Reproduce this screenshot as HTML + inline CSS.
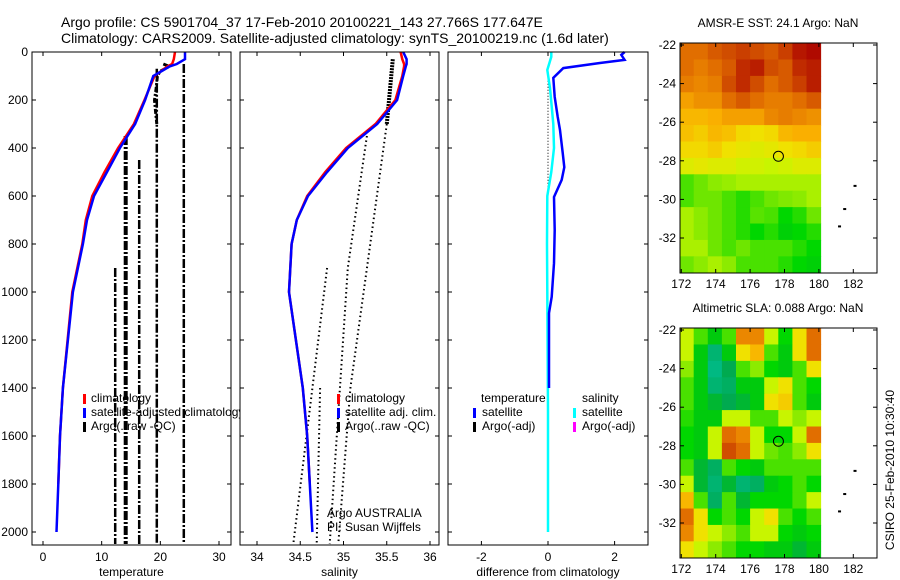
<!DOCTYPE html>
<html><head><meta charset="utf-8"><style>
html,body{margin:0;padding:0;background:#fff;}
svg{display:block;font-family:"Liberation Sans",sans-serif;}
</style></head><body>
<svg id="chart" width="900" height="580" viewBox="0 0 900 580" xmlns="http://www.w3.org/2000/svg">
<text x="61" y="27" font-size="14">Argo profile: CS 5901704_37 17-Feb-2010 20100221_143 27.766S 177.647E</text>
<text x="61" y="43" font-size="14">Climatology: CARS2009. Satellite-adjusted climatology: synTS_20100219.nc (1.6d later)</text>
<g id="g"></g>
</svg>
<script>
// ---- data ----
const depthTicks=[0,200,400,600,800,1000,1200,1400,1600,1800,2000];
const tempTicks=[0,10,20,30];
const salTicks=[34,34.5,35,35.5,36];
const saltTickLabels=["34","34.5","35","35.5","36"];
const diffTicks=[-2,0,2];
const lonTicks=[172,174,176,178,180,182];
const latTicks=[-22,-24,-26,-28,-30,-32];

const climDepth=[0,30,50,60,100,200,300,400,500,600,700,800,1000,1400,1600,1800];
const climTemp=[22.5,22.3,22.0,21.2,19.0,17.3,15.5,12.8,10.5,8.4,7.3,6.7,5.0,3.4,2.9,2.6];
const satDepth=[0,30,50,60,100,200,300,400,500,600,700,800,1000,1400,1600,1800,2000];
const satTemp=[24.2,24.2,22.8,21.6,18.8,17.4,15.7,13.1,10.9,8.7,7.5,6.8,5.1,3.4,2.9,2.6,2.3];
const climSal=[35.66,35.68,35.70,35.70,35.68,35.60,35.37,35.03,34.79,34.58,34.46,34.40,34.37,34.53,34.58,34.61];
const satSal=[35.69,35.73,35.73,35.72,35.69,35.62,35.39,35.05,34.81,34.59,34.46,34.40,34.37,34.53,34.58,34.61,34.64];

// Argo raw temperature traces (bad QC) : [temp, topDepth, bottomDepth]
const argoTemp=[24.0,19.4,16.4,14.1,12.3];
const argoTempTop=[50,70,450,350,900];
const argoTempBot=[2050,2050,2050,2050,2050];
const argoNearDepth=[50,60,80,100,150,200,250,300];
const argoNearTemp=[20.5,21.5,20.0,19.5,19.3,19.0,19.2,19.4];

// Argo salinity traces
const argoSalTrace1=[[35.57,30],[35.50,300]];
const argoSalTrace2=[[35.27,350],[35.05,900],[34.84,2050]];
const argoSalTrace3=[[35.50,300],[35.08,1400],[34.94,2050]];
const argoSalTrace4=[[34.81,900],[34.42,2050]];
const argoSalTrace5=[[34.73,1400],[34.69,2050]];

const diffDepth=[0,12,33,46,67,108,187,270,325,420,480,533,604,742,880,1020,1088,1400];
const diffTempSat=[2.3,2.2,2.3,1.56,0.46,0.16,0.2,0.29,0.36,0.44,0.49,0.41,0.18,0.2,0.18,0.11,0.03,0.03];
const diffSalDepth=[0,20,75,150,300,400,500,600,800,1000,1500,2000];
const diffSalSat=[0.1,0.1,-0.02,0.06,0.16,0.18,0.1,-0.02,-0.03,-0.02,0.0,0.0];

// SST map grid (normalized colour index), 10 cols x 14 rows
const sstGrid=[
[0.85,0.85,0.88,0.9,0.92,0.9,0.88,0.92,0.98,1],
[0.85,0.82,0.85,0.88,0.95,0.97,0.9,0.88,0.95,0.97],
[0.82,0.8,0.82,0.9,0.95,0.9,0.85,0.88,0.92,0.97],
[0.75,0.78,0.78,0.85,0.88,0.85,0.82,0.82,0.85,0.88],
[0.7,0.7,0.72,0.75,0.75,0.75,0.8,0.82,0.8,0.78],
[0.68,0.65,0.7,0.68,0.62,0.6,0.62,0.7,0.72,0.72],
[0.62,0.62,0.65,0.6,0.58,0.55,0.57,0.6,0.62,0.65],
[0.55,0.57,0.55,0.55,0.52,0.52,0.5,0.52,0.55,0.55],
[0.3,0.35,0.4,0.42,0.45,0.45,0.45,0.45,0.45,0.45],
[0.3,0.35,0.35,0.3,0.25,0.3,0.35,0.38,0.4,0.45],
[0.45,0.4,0.35,0.3,0.25,0.32,0.3,0.2,0.25,0.35],
[0.45,0.4,0.35,0.3,0.25,0.2,0.25,0.15,0.2,0.25],
[0.45,0.45,0.35,0.3,0.35,0.3,0.3,0.3,0.25,0.2],
[0.35,0.4,0.45,0.4,0.3,0.3,0.3,0.25,0.2,0.15]];
const slaGrid=[
[0.5,0.3,0.1,0.3,0.8,0.8,0.5,0.2,0.6,0.85],
[0.5,0.1,-0.15,0.1,0.6,0.7,0.3,0.1,0.6,0.85],
[0.4,0.1,-0.2,-0.05,0.3,0.4,0.2,0.1,0.3,0.6],
[0.3,0.1,-0.15,-0.1,0.1,0.1,0.5,0.6,0.3,0.2],
[0.3,0.1,0.0,-0.05,0.0,0.1,0.6,0.65,0.3,0.1],
[0.25,0.1,0.1,0.5,0.5,0.3,0.3,0.5,0.4,0.5],
[0.2,0.1,0.5,0.85,0.8,0.5,0.2,0.2,0.5,0.85],
[0.2,0.1,0.5,0.9,0.85,0.5,0.35,0.3,0.4,0.6],
[0.3,0.0,-0.1,0.3,0.2,0.1,0.3,0.3,0.3,0.3],
[0.5,0.0,-0.15,0.0,-0.15,-0.1,0.1,0.2,0.3,0.2],
[0.7,0.3,-0.1,0.3,0.0,0.2,0.2,0.2,0.3,0.5],
[0.85,0.6,0.2,0.3,0.2,0.5,0.6,0.3,0.2,0.3],
[0.8,0.6,0.5,0.4,0.3,0.5,0.5,0.2,0.1,0.2],
[0.6,0.5,0.4,0.3,0.2,0.2,0.1,0.1,0.0,0.1]];
const argoLon=177.647, argoLat=-27.766;

// ---- helpers ----
const NS="http://www.w3.org/2000/svg";
const G=document.getElementById('g');
function el(tag,attrs,parent){const e=document.createElementNS(NS,tag);for(const k in attrs)e.setAttribute(k,attrs[k]);(parent||G).appendChild(e);return e;}
const yD=d=>52+d*0.24;
const P1={x0:32,x1:231}, P2={x0:240,x1:439}, P3={x0:448,x1:648};
const xT=t=>43+t*5.867;
const xS=s=>257+(s-34)*86.5;
const xDf=v=>548+v*33.3;
const TOP=52,BOT=545;

function panel(P,name,xTicks,xf,labels,xlabel){
  const g=el('g',{});
  
  
  el('rect',{x:P.x0,y:TOP,width:P.x1-P.x0,height:BOT-TOP,fill:'#fff',stroke:'none'},g);
  return g;
}
function frame(P,g,xTicks,xf,labels,xlabel,lname,showY){
  el('rect',{x:P.x0,y:TOP,width:P.x1-P.x0,height:BOT-TOP,fill:'none',stroke:'#000','stroke-width':1},g);
  xTicks.forEach((t,i)=>{const x=xf(t);
    el('line',{x1:x,y1:TOP,x2:x,y2:TOP+4,stroke:'#000'},g);
    el('line',{x1:x,y1:BOT,x2:x,y2:BOT-4,stroke:'#000'},g);
    const tx=el('text',{x:x,y:561,'font-size':12,'text-anchor':'middle'},g);tx.textContent=labels[i];
    
    
  });
  depthTicks.forEach(d=>{const y=yD(d);
    el('line',{x1:P.x0,y1:y,x2:P.x0+4,y2:y,stroke:'#000'},g);
    el('line',{x1:P.x1,y1:y,x2:P.x1-4,y2:y,stroke:'#000'},g);
    if(showY){const tx=el('text',{x:28,y:y+4,'font-size':12,'text-anchor':'end'},g);tx.textContent=d;
      
      }
  });
  const xl=el('text',{x:(P.x0+P.x1)/2,y:576,'font-size':12,'text-anchor':'middle'},g);xl.textContent=xlabel;
  
  
}
function poly(pts,attrs,g,name){const p=el('polyline',Object.assign({points:pts.map(p=>p[0].toFixed(1)+','+p[1].toFixed(1)).join(' '),fill:'none'},attrs),g);
  
  return p;}
function txt(x,y,s,g,name,extra){const t=el('text',Object.assign({x:x,y:y,'font-size':12},extra||{}),g);t.textContent=s;
  
  return t;}
function mark(x,y,c,g){const r=el('rect',{x:x-1,y:y-9,width:3,height:10,fill:c},g);
  
  }

// ---- Panel 1: temperature ----
const g1=panel(P1,'temperature-panel');
const clip1=el('clipPath',{id:'c1'});el('rect',{x:P1.x0,y:TOP,width:P1.x1-P1.x0,height:BOT-TOP},clip1);
const g1c=el('g',{'clip-path':'url(#c1)'},g1);
argoTemp.forEach((t,i)=>{
  poly([[xT(t),yD(argoTempTop[i])],[xT(t),yD(argoTempBot[i])]],{stroke:'#000','stroke-width':i==3?4:2.5,'stroke-dasharray':'9,2,2,2'},g1c,'argo-temp-trace');
});
poly(argoNearDepth.map((d,i)=>[xT(argoNearTemp[i]),yD(d)]),{stroke:'#000','stroke-width':3,'stroke-dasharray':'5,2,2,2'},g1c,'argo-temp-near-surface');
poly(climDepth.map((d,i)=>[xT(climTemp[i]),yD(d)]),{stroke:'#f00','stroke-width':2.5},g1c,'climatology-temp-line');
poly(satDepth.map((d,i)=>[xT(satTemp[i]),yD(d)]),{stroke:'#00f','stroke-width':2.5},g1c,'satellite-temp-line');
mark(84,403,'#f00',g1);mark(84,417,'#00f',g1);mark(84,431,'#000',g1);
txt(91,402,'climatology',g1,'legend-climatology');
txt(91,416,'satellite-adjusted climatology',g1,'legend-satellite-adjusted');
txt(91,430,'Argo(..raw -QC)',g1,'legend-argo');
frame(P1,g1,tempTicks,xT,tempTicks.map(String),'temperature','x-axis-title-temperature',true);

// ---- Panel 2: salinity ----
const g2=panel(P2,'salinity-panel');
const clip2=el('clipPath',{id:'c2'});el('rect',{x:P2.x0,y:TOP,width:P2.x1-P2.x0,height:BOT-TOP},clip2);
const g2c=el('g',{'clip-path':'url(#c2)'},g2);
poly(argoSalTrace1.map(p=>[xS(p[0]),yD(p[1])]),{stroke:'#000','stroke-width':4,'stroke-dasharray':'2,1'},g2c,'argo-sal-trace');
[argoSalTrace2,argoSalTrace3,argoSalTrace4,argoSalTrace5].forEach(tr=>{
  poly(tr.map(p=>[xS(p[0]),yD(p[1])]),{stroke:'#000','stroke-width':2,'stroke-dasharray':'1.5,3'},g2c,'argo-sal-trace');
});
poly(climDepth.map((d,i)=>[xS(climSal[i]),yD(d)]),{stroke:'#f00','stroke-width':2.5},g2c,'climatology-sal-line');
poly(satDepth.map((d,i)=>[xS(satSal[i]),yD(d)]),{stroke:'#00f','stroke-width':2.5},g2c,'satellite-sal-line');
mark(338,403,'#f00',g2);mark(338,417,'#00f',g2);mark(338,431,'#000',g2);
txt(345,402,'climatology',g2,'legend-climatology');
txt(345,416,'satellite adj. clim.',g2,'legend-satellite-adj');
txt(345,430,'Argo(..raw -QC)',g2,'legend-argo');
txt(327,517,'Argo AUSTRALIA',g2,'credit-argo-australia');
txt(327,531,'PI: Susan Wijffels',g2,'credit-pi');
frame(P2,g2,salTicks,xS,saltTickLabels,'salinity','x-axis-title-salinity',false);

// ---- Panel 3: difference ----
const g3=panel(P3,'difference-panel');
poly([[xDf(0),yD(70)],[xDf(0),yD(600)]],{stroke:'#000','stroke-width':1,'stroke-dasharray':'1,2'},g3,'argo-diff-dotted');
poly(diffSalDepth.map((d,i)=>[xDf(diffSalSat[i]),yD(d)]),{stroke:'#0ff','stroke-width':2.5},g3,'salinity-satellite-diff-line');
poly(diffDepth.map((d,i)=>[xDf(diffTempSat[i]),yD(d)]),{stroke:'#00f','stroke-width':2.5},g3,'temperature-satellite-diff-line');
txt(481,402,'temperature',g3,'legend-temperature-heading');
mark(474,417,'#00f',g3);mark(474,431,'#000',g3);
txt(482,416,'satellite',g3,'legend-temp-satellite');
txt(482,430,'Argo(-adj)',g3,'legend-temp-argo');
txt(582,402,'salinity',g3,'legend-salinity-heading');
mark(574,417,'#0ff',g3);mark(574,431,'#f0f',g3);
txt(582,416,'satellite',g3,'legend-sal-satellite');
txt(582,430,'Argo(-adj)',g3,'legend-sal-argo');
frame(P3,g3,diffTicks,xDf,diffTicks.map(String),'difference from climatology','x-axis-title-difference',false);

// ---- maps ----
function cmap(v){
  const stops=[[-0.2,[0,185,130]],[-0.05,[0,170,80]],[0.05,[0,195,20]],[0.2,[0,215,0]],[0.35,[110,230,0]],[0.5,[200,245,0]],[0.6,[240,225,0]],[0.72,[250,175,0]],[0.85,[225,110,0]],[1,[175,10,0]]];
  if(v<=stops[0][0])return 'rgb('+stops[0][1]+')';
  for(let i=1;i<stops.length;i++){if(v<=stops[i][0]){const a=stops[i-1],b=stops[i],f=(v-a[0])/(b[0]-a[0]);
    return 'rgb('+a[1].map((c,j)=>Math.round(c+(b[1][j]-c)*f)).join(',')+')';}}
  return 'rgb('+stops[stops.length-1][1]+')';
}
function map(oy,title,grid,name){
  const g=el('g',{});
  
  
  const bx0=680,bx1=877,by0=43+oy,by1=273+oy;
  const xL=lon=>681.3+(lon-172)*17.2;
  const yL=lat=>45+oy+(-22-lat)*19.3;
  const lonMin=171.9,lonMax=180.1,latMax=-21.9,latMin=-33.8;
  const nr=grid.length,nc=grid[0].length;
  const dlon=(lonMax-lonMin)/nc,dlat=(latMax-latMin)/nr;
  grid.forEach((row,r)=>row.forEach((v,c)=>{
    const x0=Math.max(bx0,xL(lonMin+c*dlon)),x1=xL(lonMin+(c+1)*dlon);
    const y0=Math.max(by0,yL(latMax-r*dlat)),y1=Math.min(by1,yL(latMax-(r+1)*dlat));
    const rc=el('rect',{x:x0,y:y0,width:x1-x0+0.5,height:y1-y0+0.5,fill:cmap(v)},g);
    
    
  }));
  const ci=el('circle',{cx:xL(argoLon),cy:yL(argoLat),r:5,fill:'none',stroke:'#000','stroke-width':1},g);
  
  
  [[182.1,-29.3],[181.5,-30.5],[181.2,-31.4]].forEach(p=>{el('rect',{x:xL(p[0])-1.5,y:yL(p[1])-1,width:3,height:2,fill:'#000'},g);});
  el('rect',{x:bx0,y:by0,width:bx1-bx0,height:by1-by0,fill:'none',stroke:'#000'},g);
  lonTicks.forEach(l=>{const x=xL(l);
    el('line',{x1:x,y1:by0,x2:x,y2:by0+4,stroke:'#000'},g);el('line',{x1:x,y1:by1,x2:x,y2:by1-4,stroke:'#000'},g);
    txt(x,by1+15,String(l),g,'map-lon-tick-label',{'text-anchor':'middle'});});
  latTicks.forEach(l=>{const y=yL(l);
    el('line',{x1:bx0,y1:y,x2:bx0+4,y2:y,stroke:'#000'},g);el('line',{x1:bx1,y1:y,x2:bx1-4,y2:y,stroke:'#000'},g);
    txt(bx0-4,y+4,String(l),g,'map-lat-tick-label',{'text-anchor':'end'});});
  txt(778,by0-16,title,g,'map-title',{'text-anchor':'middle'});
}
map(0,'AMSR-E SST: 24.1 Argo: NaN',sstGrid,'sst-map');
map(285,'Altimetric SLA: 0.088 Argo: NaN',slaGrid,'sla-map');
txt(894,470,'CSIRO 25-Feb-2010 10:30:40',G,'timestamp-label',{'text-anchor':'middle',transform:'rotate(-90 894 470)'});
</script>
</body></html>
